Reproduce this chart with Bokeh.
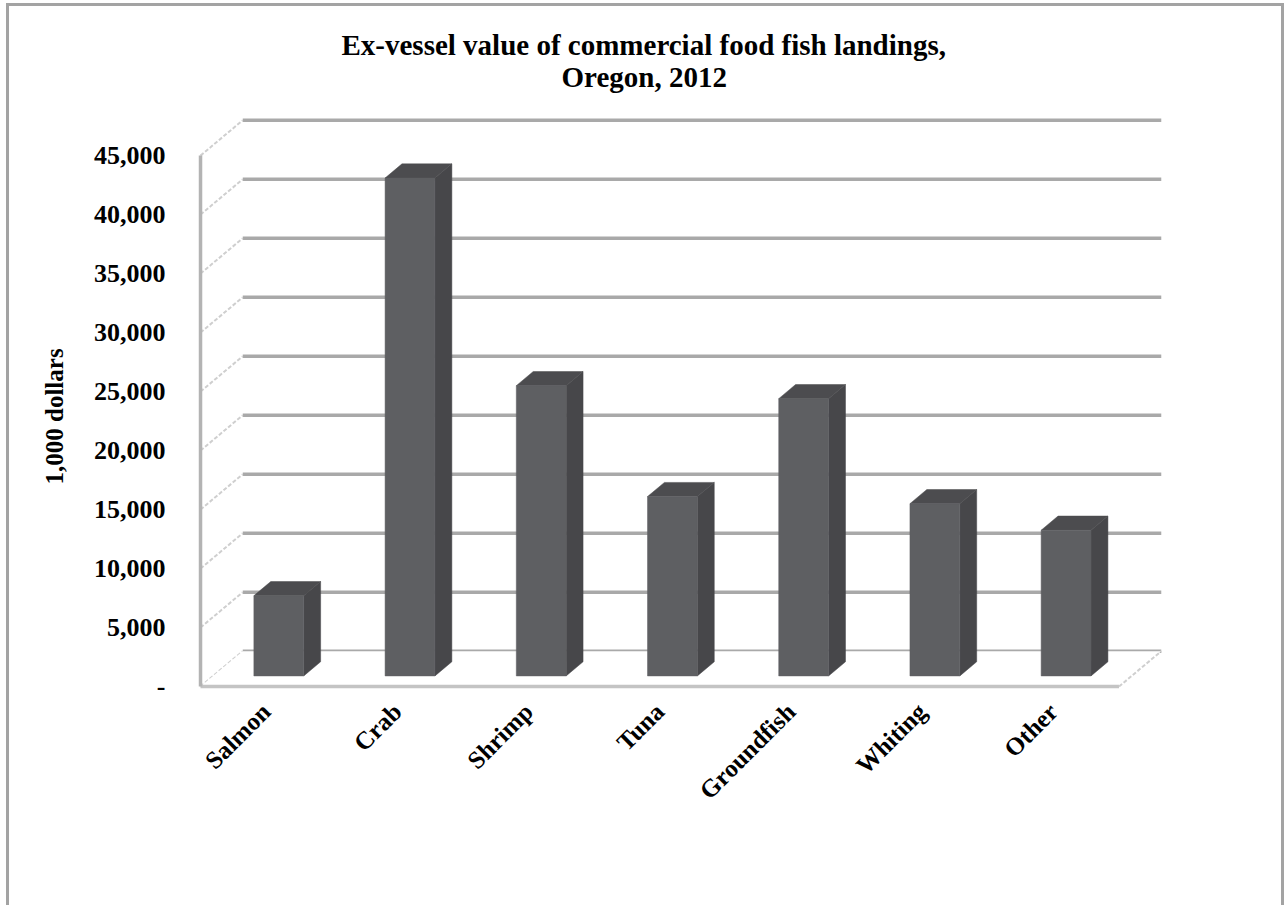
import math
from bokeh.plotting import figure
from bokeh.models import FixedTicker, Range1d, Title
from bokeh.embed import file_html
from bokeh.resources import INLINE

# ---- data ----
categories = ["Salmon", "Crab", "Shrimp", "Tuna", "Groundfish", "Whiting", "Other"]
values = [6800, 42200, 24600, 15200, 23500, 14600, 12350]
y_ticks = [0, 5000, 10000, 15000, 20000, 25000, 30000, 35000, 40000, 45000]
y_tick_labels = ["-", "5,000", "10,000", "15,000", "20,000", "25,000", "30,000",
                 "35,000", "40,000", "45,000"]
title_line1 = "Ex-vessel value of commercial food fish landings,"
title_line2 = "Oregon, 2012"
y_title = "1,000 dollars"

# ---- 3-D look parameters ----
DX = 0.322      # depth shift in category units
DY = 3000       # depth shift in value units
F1, F2 = 0.3, 0.7   # bar depth (front / back) as a fraction of DX/DY
HALF = 0.19     # half bar width in category units

FONT = "Liberation Serif"
n = len(categories)

p = figure(width=1278, height=902, output_backend="svg", toolbar_location=None,
           x_range=Range1d(-0.023, 7.4), y_range=Range1d(-250, 48400),
           min_border_left=188, min_border_right=116, min_border_top=109,
           min_border_bottom=219, title=None)
p.styles = {"margin-left": "6px", "margin-top": "3px",
            "border-left": "3px solid #a3a3a3", "border-top": "3px solid #a3a3a3",
            "border-right": "3px solid #a3a3a3"}
p.outline_line_color = None
p.grid.visible = False
p.background_fill_color = "white"
p.border_fill_color = "white"

t2 = Title(text=title_line2, text_font=FONT, text_font_style="bold",
           text_font_size="29px", text_color="black", align="left", offset=364,
           standoff=45)
t1 = Title(text=title_line1, text_font=FONT, text_font_style="bold",
           text_font_size="29px", text_color="black", align="left", offset=144,
           standoff=-49)
p.add_layout(t2, "above")
p.add_layout(t1, "above")

# back wall grid lines
bx0 = [DX for _ in y_ticks]
bx1 = [n + DX for _ in y_ticks]
by = [t + DY for t in y_ticks]
p.segment(x0=bx0, y0=by, x1=bx1, y1=by, line_color="#a9a9a9", line_width=3.5)
# side wall (left) diagonals
p.segment(x0=[0 for _ in y_ticks], y0=y_ticks, x1=bx0, y1=by,
          line_color="#cfcfcf", line_width=2, line_dash="4 2")
# floor
p.patch(x=[0, n, n + DX, DX], y=[0, 0, DY, DY], fill_color="white", line_color=None)
p.segment(x0=[0], y0=[0], x1=[n], y1=[0], line_color="#c4c4c4", line_width=3.5)
p.segment(x0=[n], y0=[0], x1=[n + DX], y1=[DY], line_color="#cfcfcf",
          line_width=2, line_dash="4 2")
# front vertical axis line
p.segment(x0=[0], y0=[0], x1=[0], y1=[y_ticks[-1]], line_color="#b3b3b3", line_width=3.5)

# bars
front_x, front_y, top_x, top_y, side_x, side_y = [], [], [], [], [], []
for i, v in enumerate(values):
    x0 = i + 0.5 - HALF
    x1 = i + 0.5 + HALF
    fx, fy = F1 * DX, F1 * DY
    bxd, byd = F2 * DX, F2 * DY
    front_x.append([x0 + fx, x1 + fx, x1 + fx, x0 + fx])
    front_y.append([fy, fy, v + fy, v + fy])
    top_x.append([x0 + fx, x1 + fx, x1 + bxd, x0 + bxd])
    top_y.append([v + fy, v + fy, v + byd, v + byd])
    side_x.append([x1 + fx, x1 + bxd, x1 + bxd, x1 + fx])
    side_y.append([fy, byd, v + byd, v + fy])
p.patches(xs=side_x, ys=side_y, fill_color="#47474a", line_color="#47474a", line_width=0.5)
p.patches(xs=top_x, ys=top_y, fill_color="#4c4c4f", line_color="#4c4c4f", line_width=0.5)
p.patches(xs=front_x, ys=front_y, fill_color="#5e5f62", line_color="#5e5f62", line_width=0.5)

# axes
p.yaxis.ticker = FixedTicker(ticks=y_ticks)
p.yaxis.major_label_overrides = {t: l for t, l in zip(y_ticks, y_tick_labels)}
p.yaxis.axis_line_color = None
p.yaxis.major_tick_line_color = None
p.yaxis.minor_tick_line_color = None
p.yaxis.major_label_standoff = 26
p.yaxis.major_label_text_font = FONT
p.yaxis.major_label_text_font_style = "bold"
p.yaxis.major_label_text_font_size = "26px"
p.yaxis.major_label_text_color = "black"

ytitle = Title(text=y_title, text_font=FONT, text_font_style="bold",
               text_font_size="25px", text_color="black", align="left",
               offset=205, standoff=45)
p.add_layout(ytitle, "left")

x_ticks = [i + 0.5 for i in range(n)]
p.xaxis.ticker = FixedTicker(ticks=x_ticks)
p.xaxis.major_label_overrides = {t: c for t, c in zip(x_ticks, categories)}
p.xaxis.major_label_orientation = math.pi / 4
p.xaxis.axis_line_color = None
p.xaxis.major_tick_line_color = None
p.xaxis.minor_tick_line_color = None
p.xaxis.major_label_standoff = 12
p.xaxis.major_label_text_font = FONT
p.xaxis.major_label_text_font_style = "bold"
p.xaxis.major_label_text_font_size = "25px"
p.xaxis.major_label_text_color = "black"

open("out.html", "w").write(file_html(p, INLINE))
